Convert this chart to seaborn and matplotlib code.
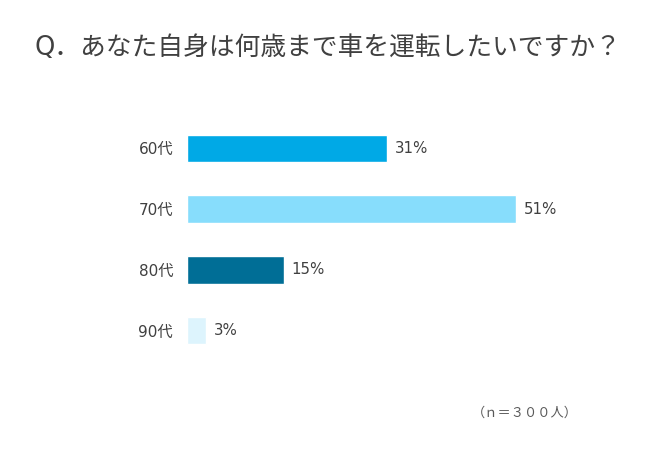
import pandas as pd
import matplotlib
matplotlib.use("Agg")
import matplotlib.pyplot as plt
import seaborn as sns

# data
ages = ["60代", "70代", "80代", "90代"]
shares = [31, 51, 15, 3]
bar_colors = ["#00A9E6", "#87DDFC", "#006E96", "#DDF4FD"]
title = "Q．あなた自身は何歳まで車を運転したいですか？"
note = "（ｎ＝３００人）"

sns.set_theme(style="white")
# DejaVu first so digits get the wide look, CJK glyphs fall back to Noto
plt.rcParams["font.family"] = ["DejaVu Sans", "Noto Sans CJK JP"]

df = pd.DataFrame({"age": ages, "share": shares})

fig = plt.figure(figsize=(6.5, 4.5), dpi=100)
ax = fig.add_axes([187 / 650, 1 - 361 / 450, (600 - 187) / 650, (361 - 118) / 450])

sns.barplot(data=df, x="share", y="age", hue="age", order=ages,
            palette=dict(zip(ages, bar_colors)), width=0.45,
            legend=False, ax=ax, saturation=1)

ax.set_xlim(0, 64)
ax.set_ylim(3.5, -0.5)
ax.set_xlabel("")
ax.set_ylabel("")
ax.set_xticks([])
ax.tick_params(axis="y", length=0, pad=10, labelsize=11, labelcolor="#404040")
sns.despine(ax=ax, left=True, bottom=True)

for i, v in enumerate(shares):
    ax.text(v + 1.2, i, f"{v}%", va="center", ha="left",
            fontsize=10.8, color="#404040")

fig.text(35 / 650, 1 - 48 / 450, title, fontsize=18.5, color="#404040",
         va="center", ha="left")
fig.text(578 / 650, 1 - 413 / 450, note, fontsize=9.5, color="#595959",
         va="center", ha="right")

fig.savefig("out.png", dpi=100, facecolor="white")
